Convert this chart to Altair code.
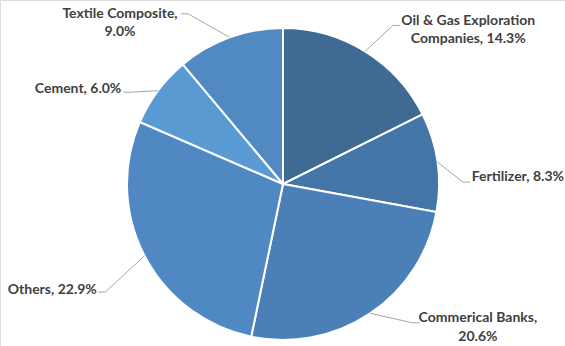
import altair as alt
import pandas as pd

# ---- data ----
categories = ["Oil & Gas Exploration Companies", "Fertilizer", "Commerical Banks",
              "Others", "Cement", "Textile Composite"]
shares = [14.3, 8.3, 20.6, 22.9, 6.0, 9.0]
# where each label wraps ("|" marks the line break used in the picture)
label_names = ["Oil & Gas Exploration|Companies", "Fertilizer", "Commerical Banks",
               "Others", "Cement", "Textile Composite"]
label_wrap_value = [False, False, True, False, False, True]

# ---- styles / layout ----
colors = ["#3E6A94", "#4375A7", "#4A80B7", "#4F88C2", "#5A9AD3", "#5189C2"]
CX, CY, R = 283, 184, 156
LINE_H = 18.5
# leader elbow (angle shift from slice middle in degrees, radius px)
elbow_shift = [3.0, 7.5, -9.1, -3.9, -5.7, -9.2]
elbow_r = [193, 180, 190, 208, 178, 195]
# label text centre (angle shift in degrees, radius px)
text_shift = [18.5, 6.4, -19.7, 2.7, -11.8, -25.4]
text_r = [241, 235, 242, 254, 226, 229]

labels = []
n_lines = []
for name, v, wrap in zip(label_names, shares, label_wrap_value):
    name = name.replace("|", "\n")
    lab = f"{name},\n{v:.1f}%" if wrap else f"{name}, {v:.1f}%"
    labels.append(lab)
    n_lines.append(lab.count("\n") + 1)

df = pd.DataFrame({
    "category": categories,
    "share": shares,
    "order": list(range(len(categories))),
    "label": labels,
    "nlines": n_lines,
    "eshift": elbow_shift,
    "er": elbow_r,
    "tshift": text_shift,
    "tr": text_r,
})

base = alt.Chart(df)

pie = base.mark_arc(outerRadius=R, stroke="white", strokeWidth=2).encode(
    theta=alt.Theta("share:Q", stack=True),
    order=alt.Order("order:Q"),
    color=alt.Color("category:N", scale=alt.Scale(domain=categories, range=colors), legend=None),
    x=alt.value(CX),
    y=alt.value(CY),
)

geo = base.transform_window(
    cum="sum(share)", sort=[alt.SortField("order")], frame=[None, 0]
).transform_joinaggregate(
    total="sum(share)"
).transform_calculate(
    mid="(datum.cum - datum.share/2) / datum.total * 2 * PI",
).transform_calculate(
    ea="datum.mid + datum.eshift * PI / 180",
    ta="datum.mid + datum.tshift * PI / 180",
).transform_calculate(
    sx=f"{CX} + {R} * sin(datum.mid)",
    sy=f"{CY} - {R} * cos(datum.mid)",
    ex=f"{CX} + datum.er * sin(datum.ea)",
    ey=f"{CY} - datum.er * cos(datum.ea)",
    tx=f"{CX} + datum.tr * sin(datum.ta)",
    ty=f"{CY} - datum.tr * cos(datum.ta) - (datum.nlines - 1) * {LINE_H} / 2",
).transform_calculate(
    hx="datum.ex + (sin(datum.mid) >= 0 ? 7 : -7)",
)

leader1 = geo.mark_rule(color="#A6A6A6", strokeWidth=1).encode(
    x=alt.X("sx:Q", scale=None, axis=None),
    y=alt.Y("sy:Q", scale=None, axis=None),
    x2="ex:Q",
    y2="ey:Q",
)
leader2 = geo.mark_rule(color="#A6A6A6", strokeWidth=1).encode(
    x=alt.X("ex:Q", scale=None, axis=None),
    y=alt.Y("ey:Q", scale=None, axis=None),
    x2="hx:Q",
    y2="ey:Q",
)
text = geo.mark_text(
    font="Lato", fontSize=14, fontWeight="bold", color="#404040",
    align="center", baseline="middle", lineBreak="\n", lineHeight=LINE_H,
).encode(
    x=alt.X("tx:Q", scale=None, axis=None),
    y=alt.Y("ty:Q", scale=None, axis=None),
    text="label:N",
)

chart = alt.layer(pie, leader1, leader2, text).properties(
    width=565, height=346,
    autosize=alt.AutoSizeParams(type="none"),
    padding=0,
).configure_view(stroke=None).configure(background="white")

chart.save("out.html", embed_options={"renderer": "svg", "actions": False})
